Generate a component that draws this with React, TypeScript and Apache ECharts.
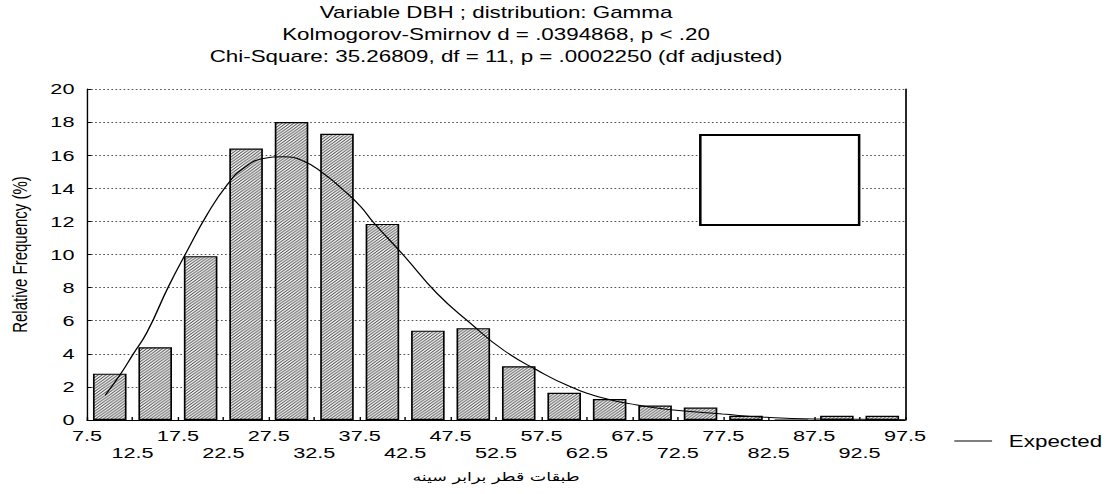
import React, { useEffect, useRef } from 'react';
import * as echarts from 'echarts';

const TITLE_LINES = [
  'Variable DBH ; distribution: Gamma',
  'Kolmogorov-Smirnov d = .0394868, p < .20',
  'Chi-Square: 35.26809, df = 11, p = .0002250 (df adjusted)',
];
const BIN_CENTERS = [10, 15, 20, 25, 30, 35, 40, 45, 50, 55, 60, 65, 70, 75, 80, 85, 90, 95];
const REL_FREQ = [2.8, 4.4, 9.9, 16.4, 18.0, 17.3, 11.85, 5.4, 5.55, 3.25, 1.65, 1.27, 0.87, 0.75, 0.25, 0, 0.25, 0.25];
const EXPECTED_X = [9.5, 11.1, 12.6, 14.1, 16.45, 18.5, 20.7, 22.9, 24.7, 26.9, 29.1, 31.3, 33.5, 35.7, 37.6, 39.0, 42.3, 46.0, 49.7, 53.3, 57.0, 60.7, 64.4, 68.0, 71.7, 77.4, 82.3, 87.5, 92.6, 97.5];
const EXPECTED_Y = [1.5, 2.7, 4.0, 5.3, 8.05, 10.2, 12.4, 14.2, 15.2, 15.8, 15.9, 15.65, 14.9, 13.9, 12.9, 11.95, 9.97, 7.65, 5.84, 4.23, 3.02, 2.01, 1.31, 0.91, 0.62, 0.36, 0.16, 0.06, 0.04, 0.02];
const X_NAME = 'طبقات قطر برابر سینه';
const Y_NAME = 'Relative Frequency (%)';
const LEGEND_NAME = 'Expected';
const BAR_NAME = 'Observed';

const W = 794;
const H = 494;
const SX = 1111 / W;
const FONT = 'Arial, "Liberation Sans", sans-serif';

const TILE = 2.8;
const HATCH_SVG =
  `<svg xmlns="http://www.w3.org/2000/svg" width="${TILE}" height="${TILE}" viewBox="0 0 ${TILE} ${TILE}">` +
  `<rect width="${TILE}" height="${TILE}" fill="#ffffff"/>` +
  `<path d="M0,${TILE} L${TILE},0 M${-TILE / 2},${TILE / 2} L${TILE / 2},${-TILE / 2} M${TILE / 2},${TILE * 1.5} L${TILE * 1.5},${TILE / 2}" stroke="#222222" stroke-width="0.7" fill="none"/>` +
  `</svg>`;
const HATCH_URL = 'data:image/svg+xml;utf8,' + encodeURIComponent(HATCH_SVG);

export default function App() {
  const ref = useRef<HTMLDivElement>(null);
  useEffect(() => {
    if (!ref.current) return;
    const chart = echarts.init(ref.current, null, { renderer: 'svg', width: W, height: H });
    const option: any = {
      animation: false,
      backgroundColor: '#fff',
      title: {
        text: TITLE_LINES.join('\n'),
        left: 354.5,
        top: 1,
        textAlign: 'center',
        padding: 0,
        textStyle: { fontFamily: FONT, fontSize: 16, fontWeight: 'normal', color: '#000', lineHeight: 22 },
      },
      legend: {
        data: [LEGEND_NAME],
        left: 677,
        top: 428,
        icon: 'rect',
        itemWidth: 27,
        itemHeight: 1.2,
        selectedMode: false,
        textStyle: { fontFamily: FONT, fontSize: 16, color: '#000', padding: [0, 0, 0, 7] },
      },
      grid: { left: 62.2, right: 147.2, top: 89, bottom: 74, containLabel: false, outerBoundsMode: 'none' },
      xAxis: {
        type: 'value',
        min: 7.5,
        max: 97.5,
        interval: 5,
        name: X_NAME,
        nameLocation: 'middle',
        nameGap: 50,
        nameTextStyle: { fontFamily: '"DejaVu Sans"', fontSize: 12.5, color: '#000' },
        axisLine: { lineStyle: { color: '#000', width: 1 } },
        axisTick: { inside: true, length: 3, lineStyle: { color: '#000' } },
        axisLabel: {
          margin: 7,
          fontFamily: FONT,
          fontSize: 15.5,
          color: '#000',
          lineHeight: 17,
          showMinLabel: true,
          showMaxLabel: true,
          formatter: (v: number) => {
            const k = Math.round((v - 7.5) / 5);
            return (k % 2 ? '\n' : '') + v.toFixed(1);
          },
        },
        splitLine: { show: false },
      },
      yAxis: [
        {
          type: 'value',
          min: 0,
          max: 20,
          interval: 2,
          name: Y_NAME,
          nameLocation: 'middle',
          nameGap: 41,
          nameTextStyle: { fontFamily: FONT, fontSize: 15, color: '#000' },
          axisLine: { show: true, lineStyle: { color: '#000', width: 1 } },
          axisTick: { show: true, inside: true, length: 3, lineStyle: { color: '#000' } },
          axisLabel: { margin: 9, fontFamily: FONT, fontSize: 15.5, color: '#000' },
          splitLine: { show: true, lineStyle: { color: '#555', width: 1, type: [1.2, 1.7] } },
        },
        {
          type: 'value',
          position: 'right',
          min: 0,
          max: 20,
          interval: 2,
          axisLine: { show: true, lineStyle: { color: '#000', width: 1.2 } },
          axisTick: { show: false },
          axisLabel: { show: false },
          splitLine: { show: false },
        },
      ],
      series: [
        {
          name: BAR_NAME,
          type: 'bar',
          barWidth: 24,
          data: BIN_CENTERS.map((c, i) => [c, REL_FREQ[i]]),
          itemStyle: {
            color: { image: HATCH_URL, repeat: 'repeat', imageWidth: TILE, imageHeight: TILE },
            borderColor: '#000',
            borderWidth: 1.2,
          },
          z: 2,
        },
        {
          name: LEGEND_NAME,
          type: 'line',
          smooth: true,
          showSymbol: false,
          color: '#000',
          lineStyle: { color: '#000', width: 1 },
          itemStyle: { color: '#000' },
          data: EXPECTED_X.map((x, i) => [x, EXPECTED_Y[i]]),
          z: 5,
        },
      ],
      graphic: [
        {
          type: 'rect',
          shape: { x: 500.5, y: 135, width: 113.5, height: 90 },
          style: { fill: '#fff', stroke: '#000', lineWidth: 1.8 },
          z: 10,
        },
      ],
    };
    chart.setOption(option);
    return () => chart.dispose();
  }, []);
  return (
    <div
      style={{
        position: 'absolute',
        left: 0,
        top: 0,
        width: W,
        height: H,
        transform: `scaleX(${SX})`,
        transformOrigin: '0 0',
        background: '#fff',
      }}
    >
      <div ref={ref} style={{ width: W, height: H }} />
    </div>
  );
}
